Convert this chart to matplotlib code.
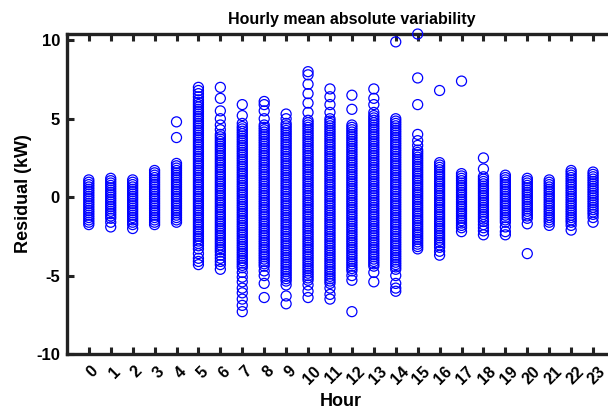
import matplotlib
matplotlib.use("Agg")
import matplotlib.pyplot as plt
from matplotlib.transforms import ScaledTranslation

plt.rcParams['font.family'] = ['Liberation Sans', 'DejaVu Sans']

hours = list(range(24))
tick_labels = [str(h) for h in hours]

h00 = [1.1, 0.95, 0.8, 0.65, 0.5, 0.35, 0.2, 0.05, -0.1, -0.25, -0.4, -0.55, -0.7, -0.85, -1.0, -1.15,
       -1.3, -1.45, -1.6, -1.75]
h01 = [1.2, 1.05, 0.9, 0.75, 0.6, 0.45, 0.3, 0.15, 0.0, -0.15, -0.3, -0.45, -0.6, -0.75, -0.9, -1.05,
       -1.2, -1.35, -1.6, -1.9]
h02 = [1.1, 0.95, 0.8, 0.65, 0.5, 0.35, 0.2, 0.05, -0.1, -0.25, -0.4, -0.55, -0.7, -0.85, -1.0, -1.15,
       -1.3, -1.45, -1.6, -1.75, -2.0]
h03 = [1.7, 1.55, 1.4, 1.25, 1.1, 0.95, 0.8, 0.65, 0.5, 0.35, 0.2, 0.05, -0.1, -0.25, -0.4, -0.55,
       -0.7, -0.85, -1.0, -1.15, -1.3, -1.45, -1.6, -1.75]
h04 = [4.8, 3.8, 2.15, 2.0, 1.85, 1.7, 1.55, 1.4, 1.25, 1.1, 0.95, 0.8, 0.65, 0.5, 0.35, 0.2, 0.05,
       -0.1, -0.25, -0.4, -0.55, -0.7, -0.85, -1.0, -1.15, -1.3, -1.45, -1.6]
h05 = [7.0, 6.8, 6.6, 6.4, 6.2, 6.05, 5.9, 5.75, 5.6, 5.45, 5.3, 5.15, 5.0, 4.85, 4.7, 4.55, 4.4, 4.25,
       4.1, 3.95, 3.8, 3.65, 3.5, 3.35, 3.2, 3.05, 2.9, 2.75, 2.6, 2.45, 2.3, 2.15, 2.0, 1.85, 1.7,
       1.55, 1.4, 1.25, 1.1, 0.95, 0.8, 0.65, 0.5, 0.35, 0.2, 0.05, -0.1, -0.25, -0.4, -0.55, -0.7,
       -0.85, -1.0, -1.15, -1.3, -1.45, -1.6, -1.75, -1.9, -2.05, -2.2, -2.35, -2.5, -2.65, -2.8,
       -2.95, -3.1, -3.3, -3.6, -3.9, -4.1, -4.3]
h06 = [7.0, 6.3, 5.5, 5.0, 4.6, 4.3, 4.0, 3.85, 3.7, 3.55, 3.4, 3.25, 3.1, 2.95, 2.8, 2.65, 2.5, 2.35,
       2.2, 2.05, 1.9, 1.75, 1.6, 1.45, 1.3, 1.15, 1.0, 0.85, 0.7, 0.55, 0.4, 0.25, 0.1, -0.05, -0.2,
       -0.35, -0.5, -0.65, -0.8, -0.95, -1.1, -1.25, -1.4, -1.55, -1.7, -1.85, -2.0, -2.15, -2.3,
       -2.45, -2.6, -2.75, -2.9, -3.05, -3.2, -3.35, -3.5, -3.7, -3.9, -4.1, -4.3, -4.6]
h07 = [5.9, 5.2, 4.7, 4.5, 4.35, 4.2, 4.05, 3.9, 3.75, 3.6, 3.45, 3.3, 3.15, 3.0, 2.85, 2.7, 2.55, 2.4,
       2.25, 2.1, 1.95, 1.8, 1.65, 1.5, 1.35, 1.2, 1.05, 0.9, 0.75, 0.6, 0.45, 0.3, 0.15, 0.0, -0.15,
       -0.3, -0.45, -0.6, -0.75, -0.9, -1.05, -1.2, -1.35, -1.5, -1.65, -1.8, -1.95, -2.1, -2.25,
       -2.4, -2.55, -2.7, -2.85, -3.0, -3.15, -3.3, -3.45, -3.6, -3.75, -3.9, -4.05, -4.2, -4.35,
       -4.5, -4.8, -5.1, -5.4, -5.8, -6.1, -6.5, -6.9, -7.3]
h08 = [6.1, 5.9, 5.5, 5.0, 4.6, 4.45, 4.3, 4.15, 4.0, 3.85, 3.7, 3.55, 3.4, 3.25, 3.1, 2.95, 2.8, 2.65,
       2.5, 2.35, 2.2, 2.05, 1.9, 1.75, 1.6, 1.45, 1.3, 1.15, 1.0, 0.85, 0.7, 0.55, 0.4, 0.25, 0.1,
       -0.05, -0.2, -0.35, -0.5, -0.65, -0.8, -0.95, -1.1, -1.25, -1.4, -1.55, -1.7, -1.85, -2.0,
       -2.15, -2.3, -2.45, -2.6, -2.75, -2.9, -3.05, -3.2, -3.35, -3.5, -3.65, -3.8, -3.95, -4.1,
       -4.25, -4.4, -4.7, -5.0, -5.5, -6.4]
h09 = [5.3, 5.0, 4.7, 4.55, 4.4, 4.25, 4.1, 3.95, 3.8, 3.65, 3.5, 3.35, 3.2, 3.05, 2.9, 2.75, 2.6, 2.45,
       2.3, 2.15, 2.0, 1.85, 1.7, 1.55, 1.4, 1.25, 1.1, 0.95, 0.8, 0.65, 0.5, 0.35, 0.2, 0.05, -0.1,
       -0.25, -0.4, -0.55, -0.7, -0.85, -1.0, -1.15, -1.3, -1.45, -1.6, -1.75, -1.9, -2.05, -2.2,
       -2.35, -2.5, -2.65, -2.8, -2.95, -3.1, -3.25, -3.4, -3.55, -3.7, -3.85, -4.0, -4.15, -4.3,
       -4.45, -4.6, -4.75, -4.9, -5.05, -5.2, -5.35, -5.6, -6.3, -6.8]
h10 = [8.0, 7.8, 7.2, 6.6, 6.0, 5.4, 4.9, 4.75, 4.6, 4.45, 4.3, 4.15, 4.0, 3.85, 3.7, 3.55, 3.4, 3.25,
       3.1, 2.95, 2.8, 2.65, 2.5, 2.35, 2.2, 2.05, 1.9, 1.75, 1.6, 1.45, 1.3, 1.15, 1.0, 0.85, 0.7,
       0.55, 0.4, 0.25, 0.1, -0.05, -0.2, -0.35, -0.5, -0.65, -0.8, -0.95, -1.1, -1.25, -1.4, -1.55,
       -1.7, -1.85, -2.0, -2.15, -2.3, -2.45, -2.6, -2.75, -2.9, -3.05, -3.2, -3.35, -3.5, -3.65,
       -3.8, -3.95, -4.1, -4.25, -4.4, -4.55, -4.7, -4.85, -5.0, -5.15, -5.3, -5.6, -6.0, -6.4]
h11 = [6.9, 6.4, 5.9, 5.4, 5.0, 4.85, 4.7, 4.55, 4.4, 4.25, 4.1, 3.95, 3.8, 3.65, 3.5, 3.35, 3.2, 3.05,
       2.9, 2.75, 2.6, 2.45, 2.3, 2.15, 2.0, 1.85, 1.7, 1.55, 1.4, 1.25, 1.1, 0.95, 0.8, 0.65, 0.5,
       0.35, 0.2, 0.05, -0.1, -0.25, -0.4, -0.55, -0.7, -0.85, -1.0, -1.15, -1.3, -1.45, -1.6, -1.75,
       -1.9, -2.05, -2.2, -2.35, -2.5, -2.65, -2.8, -2.95, -3.1, -3.25, -3.4, -3.55, -3.7, -3.85,
       -4.0, -4.15, -4.3, -4.45, -4.6, -4.75, -4.9, -5.05, -5.2, -5.35, -5.5, -5.8, -6.2, -6.5]
h12 = [6.5, 5.6, 4.6, 4.45, 4.3, 4.15, 4.0, 3.85, 3.7, 3.55, 3.4, 3.25, 3.1, 2.95, 2.8, 2.65, 2.5, 2.35,
       2.2, 2.05, 1.9, 1.75, 1.6, 1.45, 1.3, 1.15, 1.0, 0.85, 0.7, 0.55, 0.4, 0.25, 0.1, -0.05, -0.2,
       -0.35, -0.5, -0.65, -0.8, -0.95, -1.1, -1.25, -1.4, -1.55, -1.7, -1.85, -2.0, -2.15, -2.3,
       -2.45, -2.6, -2.75, -2.9, -3.05, -3.2, -3.35, -3.5, -3.65, -3.8, -3.95, -4.1, -4.25, -4.4,
       -4.55, -4.7, -5.0, -5.3, -7.3]
h13 = [6.9, 6.3, 5.9, 5.4, 5.2, 5.05, 4.9, 4.75, 4.6, 4.45, 4.3, 4.15, 4.0, 3.85, 3.7, 3.55, 3.4, 3.25,
       3.1, 2.95, 2.8, 2.65, 2.5, 2.35, 2.2, 2.05, 1.9, 1.75, 1.6, 1.45, 1.3, 1.15, 1.0, 0.85, 0.7,
       0.55, 0.4, 0.25, 0.1, -0.05, -0.2, -0.35, -0.5, -0.65, -0.8, -0.95, -1.1, -1.25, -1.4, -1.55,
       -1.7, -1.85, -2.0, -2.15, -2.3, -2.45, -2.6, -2.75, -2.9, -3.05, -3.2, -3.35, -3.5, -3.65,
       -3.8, -3.95, -4.1, -4.25, -4.4, -4.8, -5.4]
h14 = [9.9, 5.0, 4.85, 4.7, 4.55, 4.4, 4.25, 4.1, 3.95, 3.8, 3.65, 3.5, 3.35, 3.2, 3.05, 2.9, 2.75, 2.6,
       2.45, 2.3, 2.15, 2.0, 1.85, 1.7, 1.55, 1.4, 1.25, 1.1, 0.95, 0.8, 0.65, 0.5, 0.35, 0.2, 0.05,
       -0.1, -0.25, -0.4, -0.55, -0.7, -0.85, -1.0, -1.15, -1.3, -1.45, -1.6, -1.75, -1.9, -2.05,
       -2.2, -2.35, -2.5, -2.65, -2.8, -2.95, -3.1, -3.25, -3.4, -3.55, -3.7, -3.85, -4.0, -4.15,
       -4.3, -4.45, -4.6, -5.0, -5.5, -5.8, -6.0]
h15 = [10.4, 7.6, 5.9, 4.0, 3.6, 3.3, 3.0, 2.85, 2.7, 2.55, 2.4, 2.25, 2.1, 1.95, 1.8, 1.65, 1.5, 1.35,
       1.2, 1.05, 0.9, 0.75, 0.6, 0.45, 0.3, 0.15, 0.0, -0.15, -0.3, -0.45, -0.6, -0.75, -0.9, -1.05,
       -1.2, -1.35, -1.5, -1.65, -1.8, -1.95, -2.1, -2.25, -2.4, -2.55, -2.7, -2.85, -3.0, -3.15,
       -3.3]
h16 = [6.8, 2.2, 2.05, 1.9, 1.75, 1.6, 1.45, 1.3, 1.15, 1.0, 0.85, 0.7, 0.55, 0.4, 0.25, 0.1, -0.05,
       -0.2, -0.35, -0.5, -0.65, -0.8, -0.95, -1.1, -1.25, -1.4, -1.55, -1.7, -1.85, -2.0, -2.15,
       -2.3, -2.45, -2.6, -2.75, -2.9, -3.05, -3.2, -3.45, -3.7]
h17 = [7.4, 1.5, 1.35, 1.2, 1.05, 0.9, 0.75, 0.6, 0.45, 0.3, 0.15, 0.0, -0.15, -0.3, -0.45, -0.6,
       -0.75, -0.9, -1.05, -1.2, -1.35, -1.5, -1.65, -1.8, -1.95, -2.2]
h18 = [2.5, 1.8, 1.3, 1.15, 1.0, 0.85, 0.7, 0.55, 0.4, 0.25, 0.1, -0.05, -0.2, -0.35, -0.5, -0.65,
       -0.8, -0.95, -1.1, -1.25, -1.4, -1.55, -1.75, -1.95, -2.15, -2.4]
h19 = [1.4, 1.25, 1.1, 0.95, 0.8, 0.65, 0.5, 0.35, 0.2, 0.05, -0.1, -0.25, -0.4, -0.55, -0.7, -0.85,
       -1.0, -1.15, -1.3, -1.45, -1.6, -1.9, -2.2, -2.4]
h20 = [1.2, 1.05, 0.9, 0.75, 0.6, 0.45, 0.3, 0.15, 0.0, -0.15, -0.3, -0.45, -0.6, -0.75, -0.9, -1.05,
       -1.2, -1.35, -1.7, -3.6]
h21 = [1.1, 0.95, 0.8, 0.65, 0.5, 0.35, 0.2, 0.05, -0.1, -0.25, -0.4, -0.55, -0.7, -0.85, -1.0, -1.15,
       -1.3, -1.45, -1.6, -1.8]
h22 = [1.7, 1.55, 1.4, 1.25, 1.1, 0.95, 0.8, 0.65, 0.5, 0.35, 0.2, 0.05, -0.1, -0.25, -0.4, -0.55,
       -0.7, -0.85, -1.0, -1.15, -1.3, -1.45, -1.6, -1.8, -2.1]
h23 = [1.6, 1.45, 1.3, 1.15, 1.0, 0.85, 0.7, 0.55, 0.4, 0.25, 0.1, -0.05, -0.2, -0.35, -0.5, -0.65,
       -0.8, -0.95, -1.1, -1.3, -1.6]

residuals = [h00, h01, h02, h03, h04, h05, h06, h07, h08, h09, h10, h11,
             h12, h13, h14, h15, h16, h17, h18, h19, h20, h21, h22, h23]

fig = plt.figure(figsize=(6.08, 4.15), dpi=100)
ax = fig.add_axes([0.110, 0.147, 1.0115 - 0.110, 0.918 - 0.147])

for h, vals in zip(hours, residuals):
    ax.scatter([h] * len(vals), vals, s=52, facecolors='none', edgecolors='blue',
               linewidths=0.9, clip_on=False, zorder=3)

ax.set_xlim(-1, 24)
ax.set_ylim(-10, 10.4)
ax.set_xticks(hours)
ax.set_xticklabels(tick_labels, rotation=45, fontsize=11.5, fontweight='bold')
ax.set_yticks([-10, -5, 0, 5, 10])
ax.set_yticklabels(['-10', '-5', '0', '5', '10'], fontsize=12, fontweight='bold')
ax.tick_params(axis='both', direction='in', length=5, width=2.2, top=True, right=False,
               color='#222222', pad=5)
ax.tick_params(axis='x', pad=7)
for side in ['left', 'bottom', 'top', 'right']:
    ax.spines[side].set_linewidth(2.4)
    ax.spines[side].set_color('#222222')

shift = ScaledTranslation(4 / 100, 0, fig.dpi_scale_trans)
for lab in ax.get_xticklabels():
    lab.set_transform(lab.get_transform() + shift)

ax.set_title('Hourly mean absolute variability', fontsize=11.5, fontweight='bold', pad=7, x=0.52)
ax.set_xlabel('Hour', fontsize=13, fontweight='bold', labelpad=4)
ax.set_ylabel('Residual (kW)', fontsize=13, fontweight='bold', labelpad=3)

fig.savefig('out.png', dpi=100)
